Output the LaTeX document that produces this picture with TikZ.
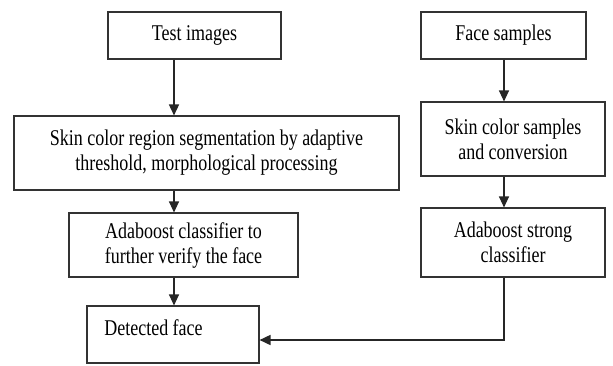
\documentclass[tikz,border=0pt]{standalone}
\usepackage{fontspec}
\setmainfont{Liberation Serif}[FakeStretch=0.8]
\usetikzlibrary{arrows.meta}
\begin{document}
\begin{tikzpicture}[x=1pt,y=1pt,
  box/.style={draw=black!80, line width=1.1pt, align=center, inner sep=0pt,
    font=\fontsize{22.5}{25}\selectfont},
  arr/.style={draw=black!85, line width=1.1pt, -{Triangle[width=10pt,length=11pt]}}]
\useasboundingbox (0,0) rectangle (613,-365);
\node[box, minimum width=173, minimum height=47] (ti) at (194.5,-35.5) {Test images};
\node[box, minimum width=385, minimum height=74] (sr) at (206.5,-153) {Skin color region segmentation by adaptive\\threshold, morphological processing};
\node[box, minimum width=229, minimum height=64] (ac) at (183.5,-245) {Adaboost classifier to\\further verify the face};
\node[box, minimum width=172, minimum height=57, text depth=13pt] (df) at (173,-334.5) {Detected face\hspace*{39pt}};
\node[box, minimum width=165, minimum height=47] (fs) at (503.5,-35.5) {Face samples};
\node[box, minimum width=184, minimum height=74] (ss) at (513,-139) {Skin color samples\\and conversion};
\node[box, minimum width=184, minimum height=69] (as) at (513,-242.5) {Adaboost strong\\classifier};
\coordinate (cl) at (174,0);
\coordinate (cr) at (504,0);
\coordinate (turn) at (504,-340);
\draw[arr, line width=1.6pt] (ti.south -| cl) -- (sr.north -| cl);
\draw[arr] (sr.south -| cl) -- (ac.north -| cl);
\draw[arr] (ac.south -| cl) -- (df.north -| cl);
\draw[arr] (fs.south -| cr) -- (ss.north -| cr);
\draw[arr] (ss.south -| cr) -- (as.north -| cr);
\draw[arr, line width=1.6pt] (as.south -| cr) -- (turn) -- (df.east |- turn);
\end{tikzpicture}
\end{document}
